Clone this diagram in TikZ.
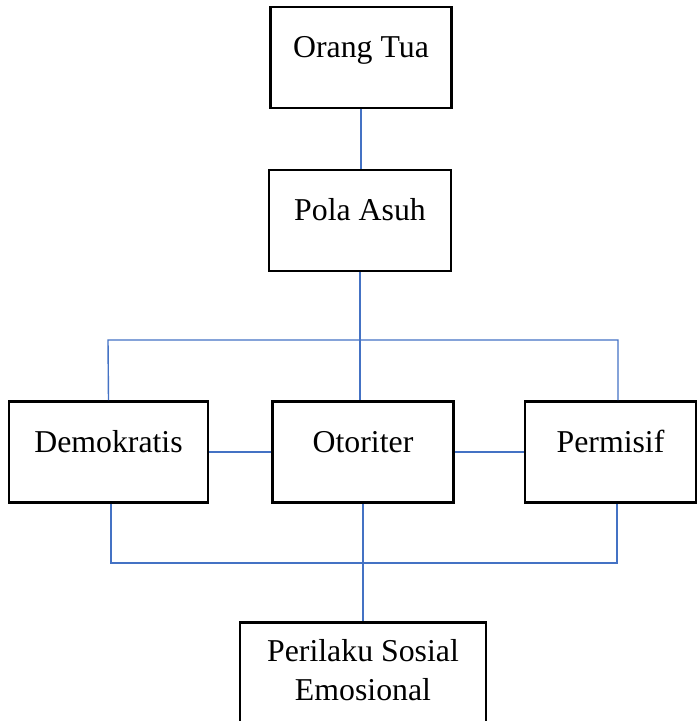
\documentclass[tikz,border=0pt]{standalone}
\usepackage{fontspec}
\setmainfont{Liberation Serif}
\definecolor{linkblue}{RGB}{68,114,196}
\tikzset{
    box/.style={draw, line width=1.3pt, inner sep=0pt, align=center,
        minimum height=50.5pt, text height=25.5pt, text depth=25pt,
        font=\fontsize{15.9}{19.5}\selectfont},
    link/.style={draw=linkblue, line width=0.7pt}
}
\begin{document}
\begin{tikzpicture}[x=0.5pt, y=-0.5pt]
            \useasboundingbox (0, 0) rectangle (698, 721);
            \node[box, minimum width=90.5pt] (orang) at (361, 57.5) {Orang Tua};
            \node[box, minimum width=91pt] (pola) at (360, 220.5) {Pola Asuh};
            \node[box, minimum width=99.5pt] (demo) at (108.5, 452) {Demokratis};
            \node[box, minimum width=90.5pt] (otor) at (363, 452) {Otoriter};
            \node[box, minimum width=85.5pt] (perm) at (610.5, 452) {Permisif};
            \node[box, minimum width=123pt, text height=39pt, text depth=20pt, anchor=north] (peri) at (363, 621) {Perilaku Sosial\\Emosional};

            \coordinate (tl) at (108, 340);
            \coordinate (tr) at (618, 340);
            \coordinate (bl) at (111, 563);
            \coordinate (br) at (617, 563);

            \draw[link] (orang.south) -- (orang.south |- pola.north);
            \draw[link] (pola.south) -- (pola.south |- otor.north);
            \draw[link] (demo.north) -- (tl) -- (tr) -- (tr |- perm.north);
            \draw[link] (demo.east) -- (otor.west);
            \draw[link] (otor.east) -- (perm.west);
            \draw[link] (bl |- demo.south) -- (bl) -- (br) -- (br |- perm.south);
            \draw[link] (otor.south) -- (otor.south |- peri.north);
        \end{tikzpicture}
\end{document}
